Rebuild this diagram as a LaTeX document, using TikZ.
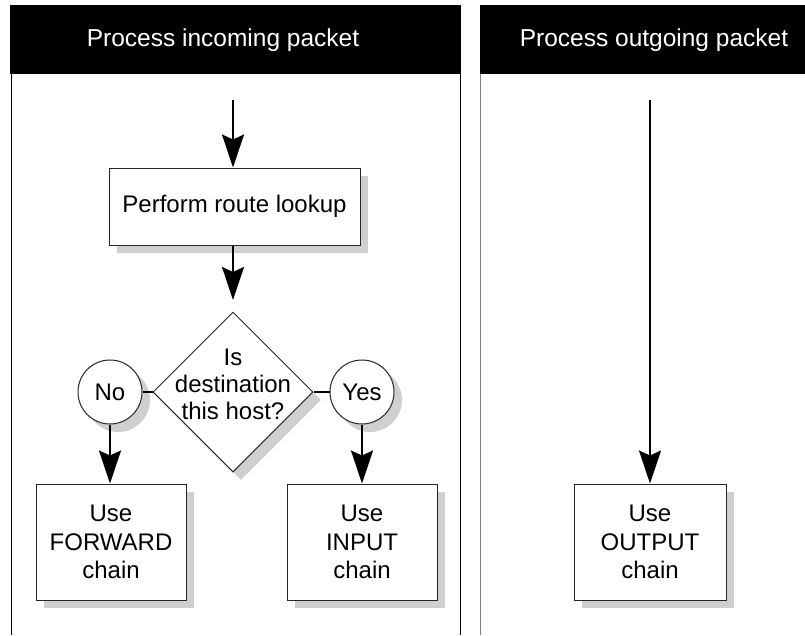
\documentclass[tikz,border=0pt]{standalone}
\usepackage{fontspec}
\setmainfont{Liberation Sans}
\usetikzlibrary{arrows.meta,shapes.geometric,shadows}
\tikzset{
  shad/.style={drop shadow={shadow xshift=8pt,shadow yshift=-8pt,fill=black!19,opacity=1}},
  boxnode/.style={draw=black!85,line width=1pt,fill=white,shad,inner sep=0pt,align=center,
    font=\fontsize{24}{28.5}\selectfont},
  roundnode/.style={circle,draw=black!85,line width=1pt,fill=white,shad,inner sep=0pt,
    minimum size=64pt,font=\fontsize{24}{28}\selectfont},
  flow/.style={line width=2pt,-{Stealth[length=33pt,width=22pt,inset=5pt]}},
  link/.style={line width=1.5pt},
  headtext/.style={text=white,font=\fontsize{24.5}{28}\selectfont,inner sep=0pt}
}
\begin{document}
\begin{tikzpicture}[x=1pt,y=-1pt]
\useasboundingbox (0,0) rectangle (805,635);
% panels
\fill[black] (10,5) rectangle (461,74);
\fill[black] (480,5) rectangle (805,74);
\draw[line width=1pt] (11,74) -- (11,635);
\draw[line width=1pt] (460,74) -- (460,635);
\draw[line width=1pt,black!50] (480.5,74) -- (480.5,635);
\node[headtext] (h1) at (223,40) {Process incoming packet};
\node[headtext] (h2) at (654,40) {Process outgoing packet};
% nodes
\node[boxnode,minimum width=251pt,minimum height=77pt] (route) at (234.5,206.5) {Perform route lookup};
\node[diamond,draw=black!85,line width=1pt,fill=white,shad,minimum width=160pt,minimum height=160pt,inner sep=0pt] (dia) at (233,392) {};
\node[align=center,inner sep=0pt,font=\fontsize{24}{27}\selectfont] (diatext) at (233,384) {Is\\destination\\this host?};
\node[roundnode] (no) at (110,392) {No};
\node[roundnode] (yes) at (362,392) {Yes};
\node[boxnode,minimum width=150pt,minimum height=116pt] (fwd) at (111,542) {Use\\FORWARD\\chain};
\node[boxnode,minimum width=150pt,minimum height=116pt] (inp) at (362,542) {Use\\INPUT\\chain};
\node[boxnode,minimum width=152pt,minimum height=116pt] (outp) at (650,542) {Use\\OUTPUT\\chain};
\coordinate (s1) at (233,100);
\coordinate (s2) at (650,100);
\coordinate (e2) at (233,300);
% connectors
\draw[flow] (s1) -- (route.north -| s1);
\draw[flow] (route.south -| e2) -- (e2);
\draw[link] (dia.west) -- (no.east);
\draw[link] (dia.east) -- (yes.west);
\draw[flow] (no.south) -- (no.south |- fwd.north);
\draw[flow] (yes.south) -- (yes.south |- inp.north);
\draw[flow] (s2) -- (outp.north);
\end{tikzpicture}
\end{document}
